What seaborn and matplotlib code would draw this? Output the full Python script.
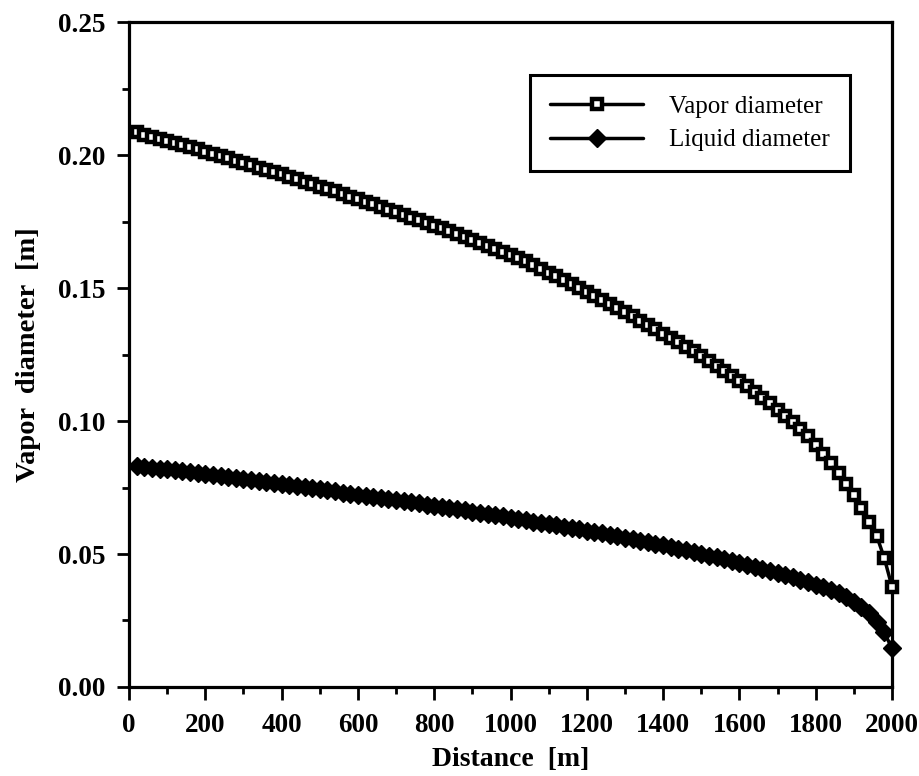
import matplotlib
matplotlib.use("Agg")
import matplotlib.pyplot as plt
from matplotlib.ticker import MultipleLocator, FormatStrFormatter
import seaborn as sns
import pandas as pd

distance = [20, 40, 60, 80, 100, 120, 140, 160, 180, 200,
            220, 240, 260, 280, 300, 320, 340, 360, 380, 400,
            420, 440, 460, 480, 500, 520, 540, 560, 580, 600,
            620, 640, 660, 680, 700, 720, 740, 760, 780, 800,
            820, 840, 860, 880, 900, 920, 940, 960, 980, 1000,
            1020, 1040, 1060, 1080, 1100, 1120, 1140, 1160, 1180, 1200,
            1220, 1240, 1260, 1280, 1300, 1320, 1340, 1360, 1380, 1400,
            1420, 1440, 1460, 1480, 1500, 1520, 1540, 1560, 1580, 1600,
            1620, 1640, 1660, 1680, 1700, 1720, 1740, 1760, 1780, 1800,
            1820, 1840, 1860, 1880, 1900, 1920, 1940, 1960, 1980, 2000]

vapor_diameter = [0.2085, 0.2077, 0.2069, 0.2061, 0.2053, 0.2045, 0.2037, 0.2029, 0.2021, 0.2013,
                  0.2005, 0.1996, 0.1988, 0.1979, 0.1971, 0.1962, 0.1953, 0.1945, 0.1936, 0.1927,
                  0.1918, 0.1909, 0.1900, 0.1891, 0.1881, 0.1872, 0.1863, 0.1853, 0.1844, 0.1834,
                  0.1824, 0.1815, 0.1805, 0.1795, 0.1785, 0.1775, 0.1765, 0.1755, 0.1744, 0.1734,
                  0.1724, 0.1713, 0.1702, 0.1692, 0.1681, 0.1670, 0.1659, 0.1648, 0.1637, 0.1626,
                  0.1613, 0.1600, 0.1586, 0.1572, 0.1558, 0.1544, 0.1529, 0.1514, 0.1499, 0.1484,
                  0.1469, 0.1454, 0.1439, 0.1424, 0.1409, 0.1393, 0.1377, 0.1361, 0.1345, 0.1329,
                  0.1313, 0.1296, 0.1279, 0.1262, 0.1244, 0.1226, 0.1208, 0.1189, 0.1170, 0.1150,
                  0.1130, 0.1109, 0.1088, 0.1066, 0.1043, 0.1020, 0.0996, 0.0971, 0.0942, 0.0910,
                  0.0877, 0.0842, 0.0805, 0.0765, 0.0720, 0.0672, 0.0622, 0.0568, 0.0484, 0.0377]

liquid_diameter = [0.0830, 0.0827, 0.0824, 0.0821, 0.0818, 0.0815, 0.0811, 0.0808, 0.0804, 0.0801,
                   0.0797, 0.0794, 0.0790, 0.0786, 0.0783, 0.0779, 0.0775, 0.0771, 0.0767, 0.0763,
                   0.0759, 0.0755, 0.0751, 0.0747, 0.0743, 0.0739, 0.0735, 0.0731, 0.0727, 0.0723,
                   0.0719, 0.0715, 0.0711, 0.0707, 0.0703, 0.0698, 0.0694, 0.0690, 0.0686, 0.0681,
                   0.0677, 0.0673, 0.0668, 0.0664, 0.0659, 0.0655, 0.0650, 0.0646, 0.0641, 0.0637,
                   0.0632, 0.0627, 0.0622, 0.0618, 0.0613, 0.0608, 0.0603, 0.0598, 0.0593, 0.0588,
                   0.0583, 0.0578, 0.0572, 0.0567, 0.0561, 0.0556, 0.0550, 0.0544, 0.0538, 0.0532,
                   0.0526, 0.0520, 0.0514, 0.0507, 0.0500, 0.0494, 0.0487, 0.0480, 0.0473, 0.0466,
                   0.0459, 0.0452, 0.0444, 0.0436, 0.0428, 0.0420, 0.0412, 0.0403, 0.0394, 0.0385,
                   0.0375, 0.0364, 0.0352, 0.0339, 0.0320, 0.0302, 0.0280, 0.0245, 0.0205, 0.0145]

x_label = "Distance  [m]"
y_label = "Vapor  diameter  [m]"
series_names = ["Vapor diameter", "Liquid diameter"]

sns.set_theme(style="ticks")
plt.rcParams["font.family"] = ["Liberation Serif", "DejaVu Serif"]
plt.rcParams["text.color"] = "black"
plt.rcParams["axes.labelcolor"] = "black"
plt.rcParams["xtick.color"] = "black"
plt.rcParams["ytick.color"] = "black"

df = pd.DataFrame({"Distance": distance, "Vapor": vapor_diameter, "Liquid": liquid_diameter})

fig = plt.figure(figsize=(9.19, 7.76), dpi=100)
ax = fig.add_axes([0.1404, 0.1147, 0.8302, 0.8569])

sns.lineplot(data=df, x="Distance", y="Vapor", ax=ax, color="black", lw=2.5,
             marker="s", markersize=6.5, markerfacecolor="white",
             markeredgecolor="black", markeredgewidth=3.2,
             label=series_names[0], estimator=None, sort=False, clip_on=False, zorder=3)
sns.lineplot(data=df, x="Distance", y="Liquid", ax=ax, color="black", lw=2.5,
             marker="D", markersize=9.5, markerfacecolor="black",
             markeredgecolor="black", markeredgewidth=1,
             label=series_names[1], estimator=None, sort=False, clip_on=False, zorder=3)

ax.set_xlim(0, 2000)
ax.set_ylim(0, 0.25)
ax.xaxis.set_major_locator(MultipleLocator(200))
ax.xaxis.set_minor_locator(MultipleLocator(100))
ax.yaxis.set_major_locator(MultipleLocator(0.05))
ax.yaxis.set_minor_locator(MultipleLocator(0.025))
ax.yaxis.set_major_formatter(FormatStrFormatter("%.2f"))

for s in ax.spines.values():
    s.set_linewidth(2.3)
    s.set_color("black")
ax.tick_params(axis="both", which="major", direction="out", length=9, width=2,
               colors="black", labelsize=19.5)
ax.tick_params(axis="x", which="major", pad=10)
ax.tick_params(axis="y", which="major", pad=8)
ax.tick_params(axis="both", which="minor", direction="out", length=5, width=2, colors="black")
for lab in ax.get_xticklabels() + ax.get_yticklabels():
    lab.set_fontweight("bold")
    lab.set_color("black")

ax.set_xlabel(x_label, fontsize=20, fontweight="bold", labelpad=6, color="black")
ax.set_ylabel(y_label, fontsize=20.5, fontweight="bold", labelpad=12, color="black")

leg = ax.legend(loc="upper left", bbox_to_anchor=(0.526, 0.92), fontsize=18,
                frameon=True, fancybox=False, edgecolor="black", framealpha=1,
                handlelength=3.7, handletextpad=1.05, borderpad=0.8, labelspacing=0.45,
                borderaxespad=0)
leg.get_frame().set_linewidth(2.2)
for t in leg.get_texts():
    t.set_color("black")

fig.savefig("out.png", dpi=100)
